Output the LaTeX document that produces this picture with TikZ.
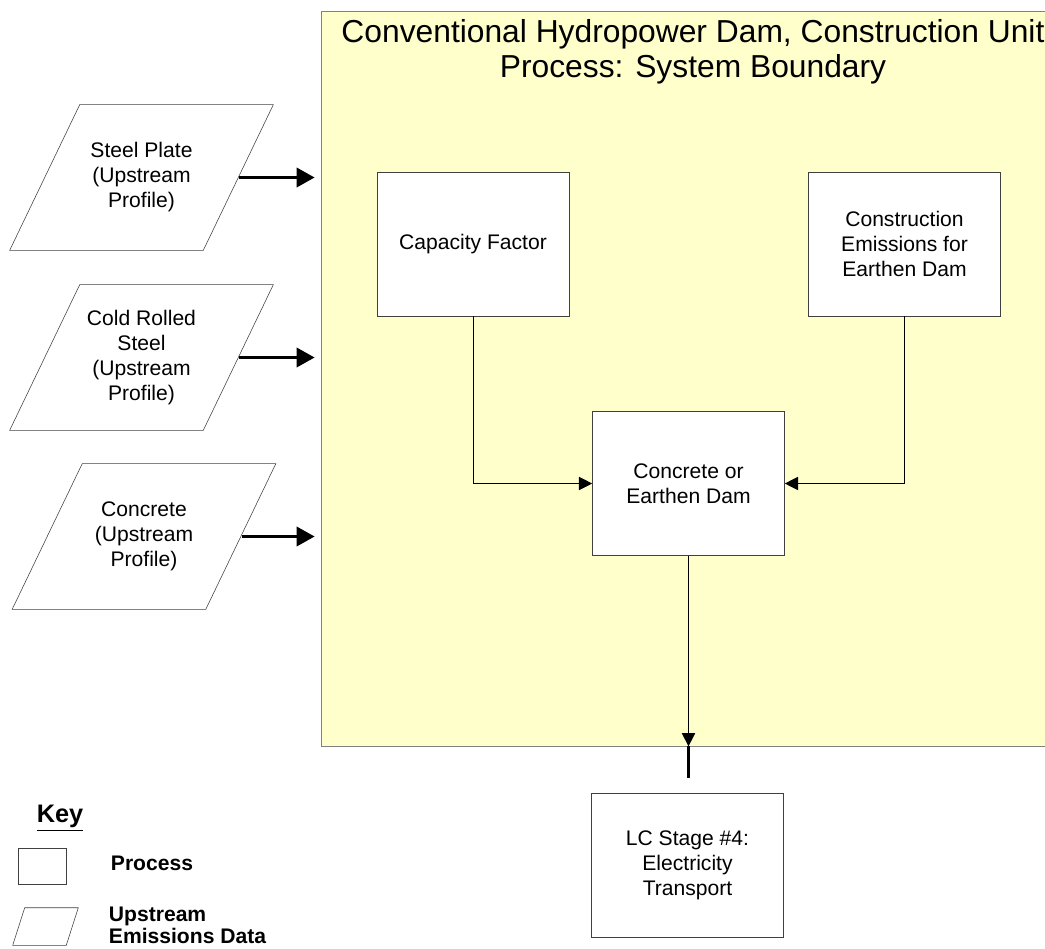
\documentclass[tikz,border=0pt]{standalone}
\usepackage{fontspec}
\setmainfont{Liberation Sans}
\usetikzlibrary{arrows.meta,positioning}
\definecolor{bndFill}{HTML}{FFFFCC}
\definecolor{bndLine}{HTML}{808080}
\definecolor{boxLine}{HTML}{404040}

\begin{document}
\begin{tikzpicture}[x=0.025cm, y=-0.025cm,
    proc/.style={draw=boxLine, fill=white, minimum width=4.8cm, minimum height=3.6cm,
      inner sep=0pt, align=center, font=\fontsize{15}{17.8}\selectfont},
    updata/.style={minimum width=6.575cm, minimum height=3.625cm, inner sep=0pt,
      align=center, font=\fontsize{15}{17.8}\selectfont},
    feed/.style={line width=2.2pt, -{Triangle[length=0.45cm,width=0.48cm]}},
    link/.style={line width=0.7pt, -{Triangle[length=0.33cm,width=0.33cm]}}]
		\useasboundingbox (0,0) rectangle (1045,948);
		% system boundary
		\node[draw=bndLine, fill=bndFill, minimum width=18.475cm, minimum height=18.375cm] (boundary) at (690.5,378.5) {};
		\node[align=center, font=\fontsize{22.6}{24.9}\selectfont] (title) at (693,52) {Conventional Hydropower Dam, Construction Unit\\Process: System Boundary};
		% processes
		\node[proc] (cap) at (473,244) {Capacity Factor};
		\node[proc] (cons) at (904.5,244) {Construction\\Emissions for\\Earthen Dam};
		\node[proc] (dam) at (688.5,483.5) {Concrete or\\Earthen Dam};
		\node[proc] (lc) at (687.5,865.5) {LC Stage \#4:\\Electricity\\Transport};
		% upstream data
		\node[updata] (sp) at (141.5,177.5) {Steel Plate\\(Upstream\\Profile)};
		\node[updata] (crs) at (141.5,357.5) {Cold Rolled\\Steel\\(Upstream\\Profile)};
		\node[updata] (conc) at (144,536.5) {Concrete\\(Upstream\\Profile)};
		\foreach \n in {sp,crs,conc} {
			\draw[boxLine] ([xshift=1.75cm]\n.north west) -- (\n.north east) -- ([xshift=-1.75cm]\n.south east) -- (\n.south west) -- cycle;
			\draw[feed, shorten >=0.15cm] ([xshift=-0.85cm]\n.east) -- (\n.east -| boundary.west);
		}
		\draw[link] (cap.south) |- (dam.west);
		\draw[link] (cons.south) |- (dam.east);
		\draw[link] (dam.south) -- (dam.south |- boundary.south);
		\coordinate (lcin) at (dam.south |- 0,778);
		\draw[line width=2.5pt] (dam.south |- boundary.south) -- (lcin);
		% key
		\node[font=\fontsize{18}{20}\selectfont\bfseries] (key) at (60,818) {\underline{Key}};
		\node[draw=boxLine, minimum width=1.2cm, minimum height=0.9cm, inner sep=0pt] (keyproc) at (42,866) {};
		\node[right, font=\fontsize{15}{17}\selectfont\bfseries] (keyproctxt) at (106,863) {Process};
		\node[minimum width=1.625cm, minimum height=0.925cm, inner sep=0pt] (keyup) at (45.5,926.5) {};
		\draw[boxLine] ([xshift=0.3cm]keyup.north west) -- (keyup.north east) -- ([xshift=-0.3cm]keyup.south east) -- (keyup.south west) -- cycle;
		\node[right, align=left, font=\fontsize{15}{15.6}\selectfont\bfseries] (keyuptxt) at (104,925) {Upstream\\Emissions Data};
\end{tikzpicture}
\end{document}
